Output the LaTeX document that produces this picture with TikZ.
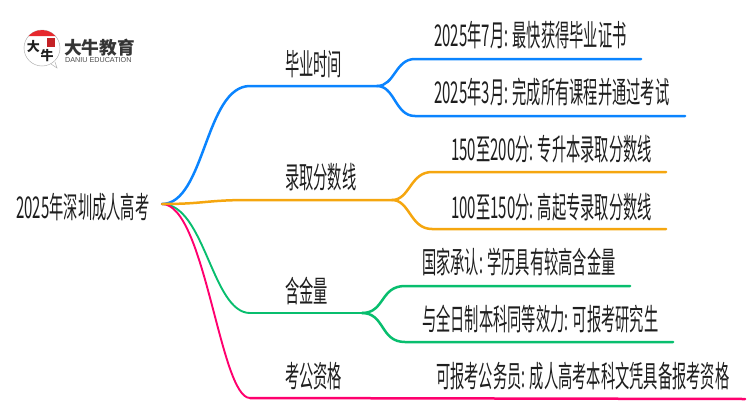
\documentclass[tikz,border=0pt]{standalone}
\usepackage{fontspec}
\newfontfamily\cjk[FakeStretch=0.475]{Noto Sans CJK SC}
\newfontfamily\cjkdigit[FakeStretch=0.5]{Noto Sans CJK SC}
\newfontfamily\cjkwide{Noto Sans CJK SC}
\newfontfamily\logolatin{Liberation Sans}
\newcommand{\digits}[1]{{\cjkdigit #1}}
\definecolor{timeblue}{RGB}{10, 132, 255}
\definecolor{lineorange}{RGB}{245, 166, 15}
\definecolor{goldgreen}{RGB}{8, 190, 110}
\definecolor{civilpink}{RGB}{255, 0, 110}
\definecolor{logored}{RGB}{230, 40, 45}
\definecolor{inkgrey}{RGB}{30, 30, 30}
\tikzset{
  label/.style={anchor=west, inner sep=0pt, text height=26.2pt, text depth=3.8pt, text=inkgrey, font=\cjk\fontsize{30}{31}\selectfont},
  branch/.style={line width=2.5pt, line cap=round},
  thinbranch/.style={line width=1.9pt, line cap=round}
}

\begin{document}
\begin{tikzpicture}[x=1pt, y=-1pt]
  \useasboundingbox (0,0) rectangle (750,410);
  % logo
  \draw[gray!60, line width=0.5pt, fill=white] (42,48) circle (18);
  \draw[gray!60, line width=0.5pt] (51,64) -- (57,68) -- (55,62);
  \fill[logored] (55.4,36) arc[start angle=-42, end angle=-138, radius=18] -- cycle;
  \fill[logored!85!black] (47,38) rectangle (55,47);
  \node[inner sep=0pt, text=inkgrey, font=\cjkwide\bfseries\fontsize{13}{13}\selectfont] (logoda) at (33.5,47) {大};
  \node[inner sep=0pt, text=inkgrey, font=\cjkwide\bfseries\fontsize{13}{13}\selectfont] (logoniu) at (47,56) {牛};
  \node[anchor=west, inner sep=0pt, text=inkgrey!90, font=\cjkwide\bfseries\fontsize{17.7}{18}\selectfont] (logoname) at (64,47.5) {大牛教育};
  \node[anchor=west, inner sep=0pt, text=inkgrey!80, font=\logolatin\fontsize{7.2}{8}\selectfont] (logoen) at (65,60.5) {DANIU EDUCATION};

  % labels
  \node[label] (root) at (16,207) {\digits{2025}年深圳成人高考};
  \node[label] (time) at (285,64) {毕业时间};
  \node[label] (score) at (285,177) {录取分数线};
  \node[label] (gold) at (285,291) {含金量};
  \node[label] (civil) at (285,376) {考公资格};
  \node[label] (timea) at (434,35) {\digits{2025}年\digits{7}月: 最快获得毕业证书};
  \node[label] (timeb) at (434,92) {\digits{2025}年\digits{3}月: 完成所有课程并通过考试};
  \node[label] (scorea) at (451,149) {\digits{150}至\digits{200}分: 专升本录取分数线};
  \node[label] (scoreb) at (451,207) {\digits{100}至\digits{150}分: 高起专录取分数线};
  \node[label] (golda) at (422,262) {国家承认: 学历具有较高含金量};
  \node[label] (goldb) at (422,319) {与全日制本科同等效力: 可报考研究生};
  \node[label] (civila) at (436,376) {可报考公务员: 成人高考本科文凭具备报考资格};

  % junctions
  \coordinate (hub) at (162,204);
  \coordinate (goldelbow) at (250,313);
  \coordinate (civilelbow) at (250,398);
  \coordinate (timefork) at (377,86);
  \coordinate (scorefork) at (392,200);
  \coordinate (goldfork) at (362,313);
  \coordinate (timeaend) at (641,59);
  \coordinate (timebend) at (685,116);
  \coordinate (scoreaend) at (666,172);
  \coordinate (scorebend) at (666,229);
  \coordinate (goldaend) at (630,286);
  \coordinate (goldbend) at (673,342);
  \coordinate (civilend) at (745,399);

  % connectors
  \draw[branch, timeblue] (hub) .. controls (205,204) and (205,86) .. (250,86) -- (timefork);
  \draw[branch, timeblue] (timefork) .. controls (395,86) and (395,59) .. (415,59) -- (timeaend);
  \draw[branch, timeblue] (timefork) .. controls (395,86) and (395,116) .. (415,116) -- (timebend);
  \draw[thinbranch, goldgreen] (hub) .. controls (205,204) and (212,313) .. (goldelbow);
  \draw[branch, goldgreen] (goldelbow) -- (goldfork);
  \draw[branch, goldgreen] (goldfork) .. controls (385,313) and (380,286) .. (405,286) -- (goldaend);
  \draw[branch, goldgreen] (goldfork) .. controls (385,313) and (380,342) .. (405,342) -- (goldbend);
  \draw[thinbranch, civilpink] (hub) .. controls (205,204) and (220,398) .. (civilelbow);
  \draw[branch, civilpink] (civilelbow) -- (civilend);
  \draw[branch, lineorange] (hub) .. controls (205,204) and (205,200) .. (250,200) -- (scorefork);
  \draw[branch, lineorange] (scorefork) .. controls (410,200) and (410,172) .. (432,172) -- (scoreaend);
  \draw[branch, lineorange] (scorefork) .. controls (410,200) and (410,229) .. (432,229) -- (scorebend);
\end{tikzpicture}
\end{document}
